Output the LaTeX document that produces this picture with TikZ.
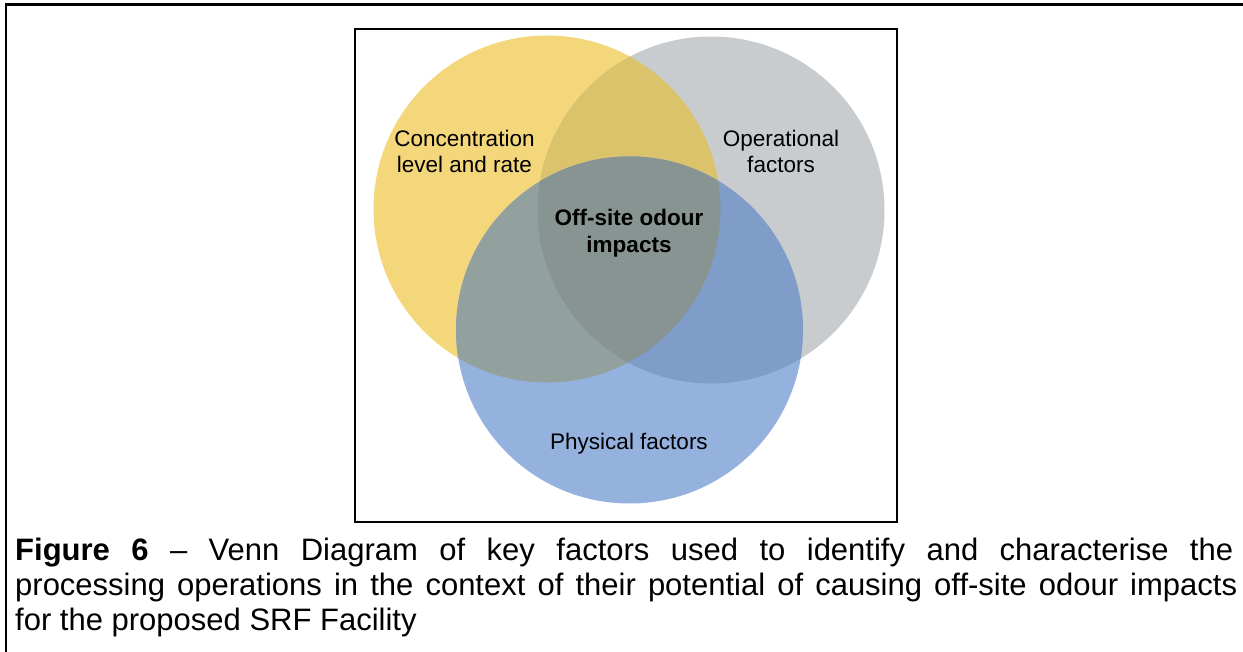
\documentclass[tikz,border=0pt]{standalone}
\usepackage{fontspec}
\setmainfont{Liberation Sans}
\definecolor{cY}{RGB}{243,215,122}
\definecolor{cG}{RGB}{201,204,207}
\definecolor{cB}{RGB}{149,177,221}
\definecolor{cYG}{RGB}{219,195,108}
\definecolor{cYB}{RGB}{147,161,158}
\definecolor{cGB}{RGB}{128,156,200}
\definecolor{cYGB}{RGB}{136,148,146}
\begin{document}
\begin{tikzpicture}[x=1pt,y=-1pt,
  lbl/.style={font=\fontsize{22.5}{26.5}\selectfont, align=center, inner sep=0pt},
  captxt/.style={font=\fontsize{31}{35}\selectfont, inner sep=0pt, anchor=base west}]
\useasboundingbox (0,0) rectangle (1243,652);
\def\rr{173.5}
\coordinate (cy) at (547,209);
\coordinate (cg) at (711,210);
\coordinate (cb) at (629.5,330);
% single circles
\fill[cY] (cy) circle[radius=\rr];
\fill[cG] (cg) circle[radius=\rr];
\fill[cB] (cb) circle[radius=\rr];
% pairwise overlaps
\begin{scope}
  \clip (cy) circle[radius=\rr];
  \fill[cYG] (cg) circle[radius=\rr];
  \fill[cYB] (cb) circle[radius=\rr];
\end{scope}
\begin{scope}
  \clip (cg) circle[radius=\rr];
  \fill[cGB] (cb) circle[radius=\rr];
\end{scope}
\begin{scope}
  \clip (cy) circle[radius=\rr];
  \clip (cg) circle[radius=\rr];
  \fill[cYGB] (cb) circle[radius=\rr];
\end{scope}
% frames
\draw[line width=2.2pt] (6,653) -- (6,4.5) -- (1244,4.5);
\draw[line width=1.6pt] (355,29) rectangle (897,522);
% labels (base anchor = baseline of last line)
\node[lbl, anchor=base] (conc) at (464.5,173) {Concentration\\level and rate};
\node[lbl, anchor=base] (oper) at (781,173) {Operational\\factors};
\node[lbl, anchor=base, font=\fontsize{22.5}{27}\selectfont\bfseries] (off) at (629,253) {Off-site odour\\impacts};
\node[lbl, anchor=base] (phys) at (629,449) {Physical factors};
% caption
\node[captxt] (cap1) at (15,560) {\makebox[1218pt][s]{\textbf{Figure 6} – Venn Diagram of key factors used to identify and characterise the}};
\node[captxt] (cap2) at (15,595) {\makebox[1222pt][s]{processing operations in the context of their potential of causing off-site odour impacts}};
\node[captxt] (cap3) at (15,630) {for the proposed SRF Facility};
\end{tikzpicture}
\end{document}
